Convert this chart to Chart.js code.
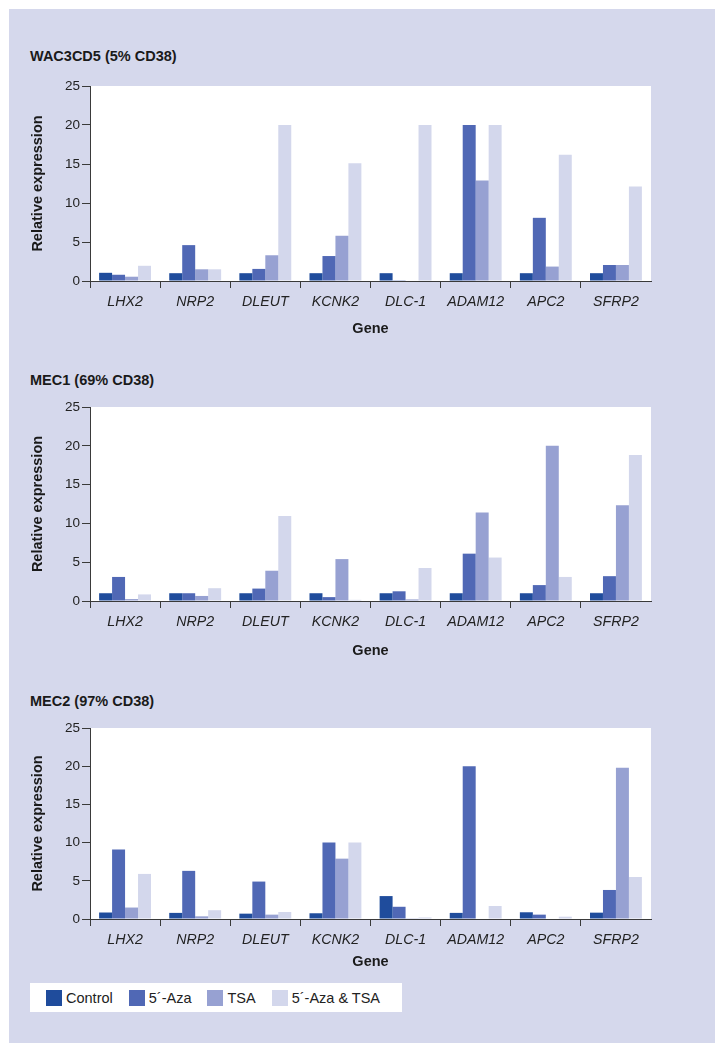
<!DOCTYPE html>
<html>
<head>
<meta charset="utf-8">
<script src="https://cdn.jsdelivr.net/npm/chart.js@4"></script>
<style>
  body { margin: 0; background: #fff; font-family: 'Liberation Sans', Arial, sans-serif; }
  #panel { position: absolute; left: 9px; top: 9px; width: 706px; height: 1034px; background: #d5d8ec; }
  .ttl { position: absolute; left: 30px; font-weight: bold; font-size: 14.5px; line-height: 16px; color: #1a1a1a; }
  canvas { position: absolute; left: 9px; }
  #legend { position: absolute; left: 30px; top: 983px; width: 372px; height: 29px; background: #fff;
            display: flex; align-items: center; font-size: 14.5px; color: #222; }
  #legend .it { display: flex; align-items: center; margin-right: 16px; }
  #legend .it:first-child { margin-left: 16px; }
  #legend .sw { width: 16px; height: 16px; margin-right: 4px; }
</style>
</head>
<body>
<div id="panel"></div>
<div class="ttl" style="top:48px">WAC3CD5 (5% CD38)</div>
<div class="ttl" style="top:372px">MEC1 (69% CD38)</div>
<div class="ttl" style="top:693px">MEC2 (97% CD38)</div>
<canvas id="c1"></canvas>
<canvas id="c2"></canvas>
<canvas id="c3"></canvas>
<div id="legend"></div>
<script>
// genes on the x axis
const genes = ['LHX2', 'NRP2', 'DLEUT', 'KCNK2', 'DLC-1', 'ADAM12', 'APC2', 'SFRP2'];
const seriesNames = ['Control', '5´-Aza', 'TSA', '5´-Aza & TSA'];
const seriesColors = ['#1f4c9c', '#5068b5', '#97a1d2', '#d3d7ec'];

// WAC3CD5 (5% CD38)
const wacControl = [1.05, 1.0, 1.0, 1.0, 1.0, 1.0, 1.0, 1.0];
const wacAza     = [0.8, 4.6, 1.55, 3.2, 0.1, 20, 8.1, 2.05];
const wacTsa     = [0.55, 1.5, 3.3, 5.8, 0, 12.9, 1.85, 2.05];
const wacAzaTsa  = [1.95, 1.5, 20, 15.1, 20, 20, 16.2, 12.1];

// MEC1 (69% CD38)
const mec1Control = [1, 1, 1, 1, 1, 1, 1, 1];
const mec1Aza     = [3.1, 1.0, 1.6, 0.5, 1.25, 6.1, 2.05, 3.2];
const mec1Tsa     = [0.25, 0.65, 3.9, 5.4, 0.2, 11.4, 20, 12.35];
const mec1AzaTsa  = [0.85, 1.65, 10.95, 0.15, 4.25, 5.6, 3.1, 18.8];

// MEC2 (97% CD38)
const mec2Control = [0.85, 0.8, 0.7, 0.75, 3.0, 0.8, 0.88, 0.83];
const mec2Aza     = [9.1, 6.3, 4.9, 10, 1.6, 20, 0.57, 3.8];
const mec2Tsa     = [1.5, 0.35, 0.57, 7.9, 0.1, 0, 0, 19.8];
const mec2AzaTsa  = [5.9, 1.15, 0.92, 10, 0.2, 1.7, 0.3, 5.5];

const yMax = 25;
const yStep = 5;

const axisColor = '#3a3a3a';
const font = "'Liberation Sans', Arial, sans-serif";

// white plot area
const plotBg = {
  id: 'plotBg',
  beforeDraw(chart) {
    const a = chart.chartArea, c = chart.ctx;
    c.save();
    c.fillStyle = '#fff';
    c.fillRect(a.left, a.top, a.right - a.left, a.bottom - a.top);
    c.restore();
  }
};

function makeChart(id, series, plotTop, plotH, genePad) {
  const cv = document.getElementById(id);
  cv.width = 706;
  cv.height = 16 + plotH + 60;
  cv.style.top = (plotTop - 16) + 'px';
  return new Chart(cv, {
    type: 'bar',
    data: {
      labels: genes,
      datasets: series.map((d, i) => ({
        label: seriesNames[i],
        data: d,
        backgroundColor: seriesColors[i],
        borderWidth: 0,
        categoryPercentage: 0.74,
        barPercentage: 1.0
      }))
    },
    options: {
      responsive: false,
      animation: false,
      layout: { padding: { top: 16, right: 64, left: 0, bottom: 0 } },
      plugins: { legend: { display: false }, tooltip: { enabled: false } },
      scales: {
        x: {
          afterFit: s => { s.height = 60; },
          grid: {
            offset: true,
            drawOnChartArea: false,
            tickLength: 7,
            color: ctx => ctx.type === 'tick' ? axisColor : 'rgba(0,0,0,0)'
          },
          border: { display: true, color: axisColor, width: 1 },
          ticks: { color: '#222', padding: 6, font: { family: font, size: 14.2, style: 'italic' } },
          title: { display: true, text: 'Gene', color: '#1a1a1a',
                   padding: { top: 0, bottom: genePad },
                   font: { family: font, size: 14.5, weight: 'bold' } }
        },
        y: {
          min: 0, max: yMax,
          afterFit: s => { s.width = 81; },
          grid: { drawOnChartArea: false, tickLength: 8, color: axisColor },
          border: { display: true, color: axisColor, width: 1 },
          ticks: { stepSize: yStep, color: '#222', padding: 2, font: { family: font, size: 13.5 } },
          title: { display: true, text: 'Relative expression', color: '#1a1a1a',
                   padding: { top: 20.3, bottom: 0 },
                   font: { family: font, size: 14.5, weight: 'bold' } }
        }
      }
    },
    plugins: [plotBg]
  });
}

makeChart('c1', [wacControl, wacAza, wacTsa, wacAzaTsa], 86, 195, 3);
makeChart('c2', [mec1Control, mec1Aza, mec1Tsa, mec1AzaTsa], 407, 194, 1);
makeChart('c3', [mec2Control, mec2Aza, mec2Tsa, mec2AzaTsa], 728, 191, 8);

// shared legend
const lg = document.getElementById('legend');
seriesNames.forEach((n, i) => {
  const it = document.createElement('div');
  it.className = 'it';
  const sw = document.createElement('div');
  sw.className = 'sw';
  sw.style.background = seriesColors[i];
  const tx = document.createElement('span');
  tx.textContent = n;
  it.appendChild(sw);
  it.appendChild(tx);
  lg.appendChild(it);
});
</script>
</body>
</html>
